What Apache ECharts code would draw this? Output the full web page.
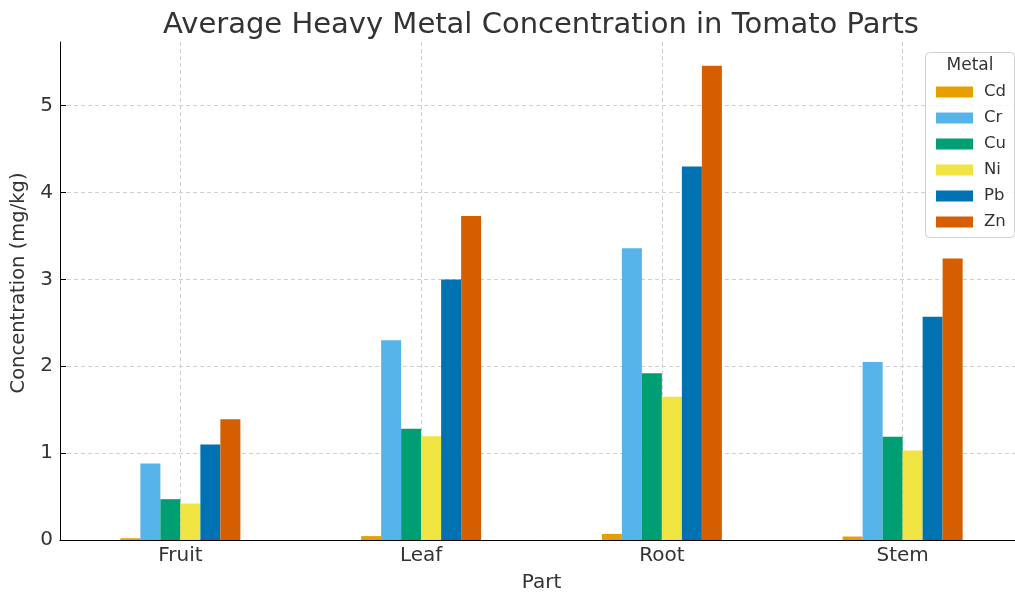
<!DOCTYPE html>
<html>
<head>
<meta charset="utf-8">
<script src="https://cdn.jsdelivr.net/npm/echarts@6/dist/echarts.min.js"></script>
<style>html,body{margin:0;padding:0;background:#fff;}#c{width:1015px;height:594px;}</style>
</head>
<body>
<div id="c"></div>
<script>
const parts = ['Fruit', 'Leaf', 'Root', 'Stem'];
const metals = ['Cd', 'Cr', 'Cu', 'Ni', 'Pb', 'Zn'];
const Cd = [0.02, 0.045, 0.07, 0.04];
const Cr = [0.88, 2.30, 3.36, 2.05];
const Cu = [0.47, 1.28, 1.92, 1.19];
const Ni = [0.42, 1.195, 1.65, 1.03];
const Pb = [1.10, 3.00, 4.30, 2.57];
const Zn = [1.39, 3.73, 5.46, 3.24];
const yTicks = [0, 1, 2, 3, 4, 5];
const colors = ['#E69F00', '#56B4E9', '#009E73', '#F0E442', '#0072B2', '#D55E00'];
const seriesData = [Cd, Cr, Cu, Ni, Pb, Zn];

const font = 'DejaVu Sans';
const chart = echarts.init(document.getElementById('c'), null, {renderer: 'canvas'});
const option = {
  animation: false,
  color: colors,
  textStyle: {fontFamily: font},
  title: {
    text: 'Average Heavy Metal Concentration in Tomato Parts',
    left: 536, top: 6, textAlign: 'center',
    textStyle: {fontFamily: font, fontSize: 29, fontWeight: 'normal', color: '#333'}
  },
  grid: {left: 60, top: 42, width: 963, bottom: 54, containLabel: false, outerBoundsMode: 'none'},
  legend: {
    orient: 'vertical', left: 931, top: 78, z: 100,
    icon: 'rect', itemWidth: 37, itemHeight: 11, itemGap: 8,
    data: metals,
    textStyle: {fontFamily: font, fontSize: 16.5, color: '#333', lineHeight: 18, padding: [0, 0, 0, 6]}
  },
  graphic: [
    {type: 'rect', left: 925, top: 52, z: 50, shape: {width: 89, height: 185, r: 4},
     style: {fill: 'rgba(255,255,255,0.8)', stroke: '#d0d0d0', lineWidth: 1}},
    {type: 'text', x: 970, y: 57, z: 100, style: {text: 'Metal', font: '17px "DejaVu Sans"', fill: '#333', textAlign: 'center'}}
  ],
  xAxis: {
    type: 'category', data: parts,
    name: 'Part', nameLocation: 'middle', nameGap: 33,
    nameTextStyle: {fontFamily: font, fontSize: 20, color: '#333'},
    axisLine: {lineStyle: {color: '#000', width: 1}},
    axisTick: {alignWithLabel: true, inside: true, length: 6, lineStyle: {color: '#000'}},
    axisLabel: {fontFamily: font, fontSize: 20, color: '#333', margin: 6},
    splitLine: {show: true, alignWithLabel: true, lineStyle: {color: '#cfcfcf', type: [4, 3], width: 1}}
  },
  yAxis: {
    type: 'value', min: 0, max: 5.733, interval: 1,
    name: 'Concentration (mg/kg)', nameLocation: 'middle', nameGap: 28,
    nameTextStyle: {fontFamily: font, fontSize: 19.5, color: '#333', padding: [0, 0, 0, 16]},
    axisLine: {show: true, lineStyle: {color: '#000', width: 1}},
    axisTick: {show: true, inside: true, length: 6, lineStyle: {color: '#000'}},
    axisLabel: {fontFamily: font, fontSize: 20, color: '#333', margin: 7, showMaxLabel: false,
      formatter: v => (yTicks.indexOf(v) >= 0 ? String(v) : '')},
    splitLine: {show: true, showMaxLine: false, lineStyle: {color: '#cfcfcf', type: [4, 3], width: 1}}
  },
  series: metals.map((m, i) => ({
    name: m, type: 'bar', data: seriesData[i],
    barWidth: 20, barGap: '0%',
    itemStyle: {color: colors[i]}
  }))
};
chart.setOption(option);
</script>
</body>
</html>
